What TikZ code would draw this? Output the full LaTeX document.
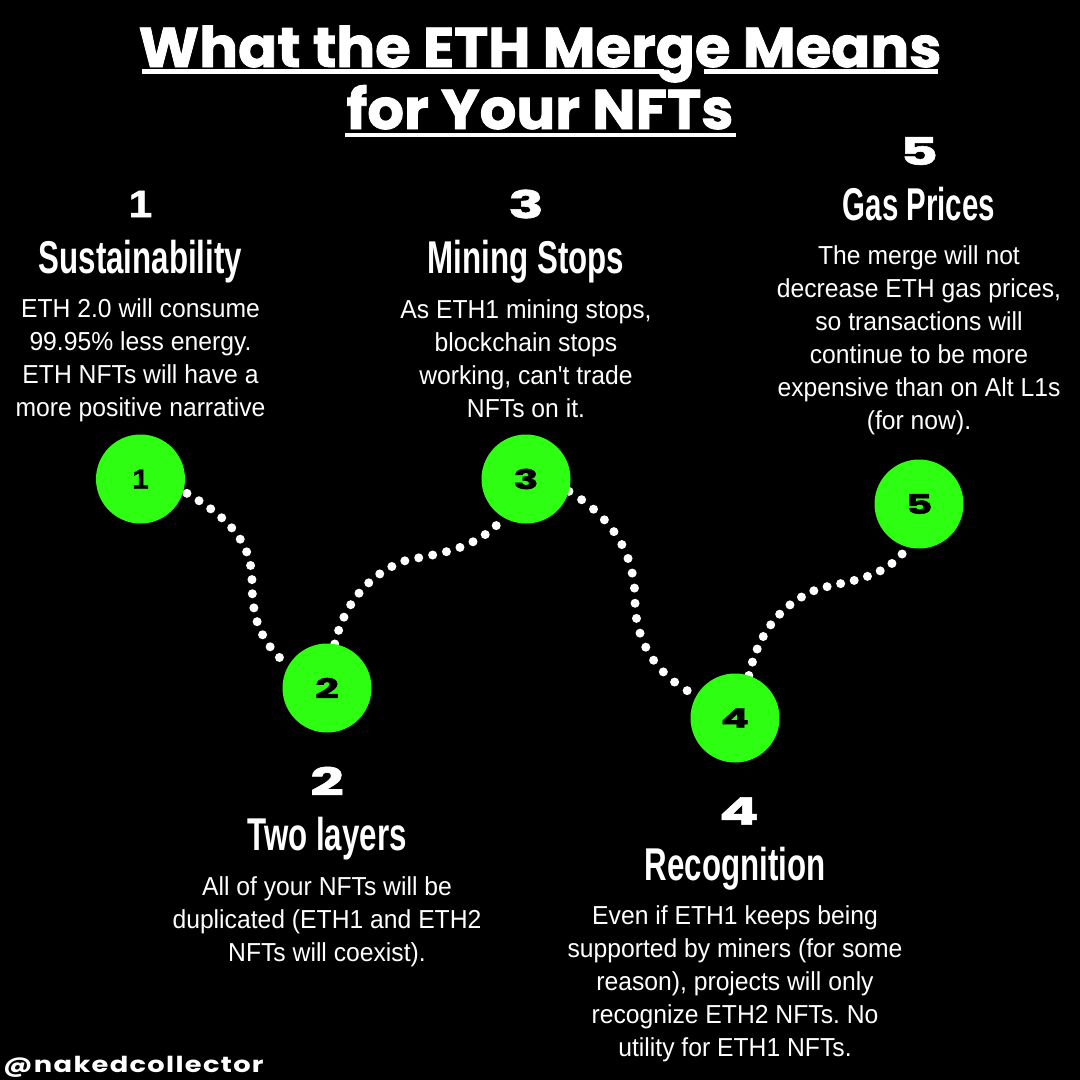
\documentclass[tikz,border=0pt]{standalone}
\usepackage{fontspec}
\usetikzlibrary{backgrounds}
\setmainfont{Liberation Sans}
\newfontfamily\bodyf[FakeStretch=0.95]{Liberation Sans}
\newfontfamily\headf[FakeStretch=0.68]{Liberation Sans}
\newfontfamily\headnarrowf[FakeStretch=0.64]{Liberation Sans}
\newfontfamily\titlef[FakeStretch=1.03,FakeBold=1.5]{Poppins}
\newfontfamily\numf[FakeStretch=1.55,FakeBold=1.5]{Poppins}
\newfontfamily\onef[FakeStretch=1.1,FakeBold=1.5]{Liberation Sans}
\newfontfamily\handlef[LetterSpace=6,FakeStretch=1.24]{Poppins}
\definecolor{lime}{HTML}{2EFF12}
\tikzset{
  x=1pt,y=-1pt,
  bodytext/.style={text=white,align=center,inner sep=0pt,font=\bodyf\frenchspacing\fontsize{26}{33}\selectfont},
  headtext/.style={text=white,inner sep=0pt,anchor=base,font=\headf\bfseries\fontsize{46}{50}\selectfont},
  numtext/.style={text=white,inner sep=0pt,font=\numf\bfseries\fontsize{38}{40}\selectfont},
  onetext/.style={text=white,inner sep=0pt,font=\onef\bfseries\fontsize{38}{40}\selectfont},
  titletext/.style={text=white,inner sep=0pt,anchor=base,font=\titlef\bfseries\fontsize{56}{60}\selectfont},
  marker/.style={circle,fill=lime,minimum size=89pt,inner sep=0pt,text=black,font=\numf\bfseries\fontsize{27}{28}\selectfont},
  dotline/.style={white,line width=9pt,line cap=round,dash pattern=on 0pt off 14.2pt},
  rulestyle/.style={white,line width=4.5pt}
}
\begin{document}
\begin{tikzpicture}
\begin{scope}[on background layer]
\fill[black] (0,0) rectangle (1080,1080);
\end{scope}
\useasboundingbox (0,0) rectangle (1080,1080);
% markers
\node[marker] (n1) at (140.5,479) {\onef\fontsize{27}{28}\selectfont\bfseries 1};
\node[marker] (n2) at (327,688) {2};
\node[marker] (n3) at (526,479) {3};
\node[marker] (n4) at (735,718) {4};
\node[marker] (n5) at (919,504) {5};
% connectors, under the markers
\begin{scope}[on background layer]
\draw[dotline,dash phase=10.2pt] (n1.-16) .. controls (225,515) and (252,540) .. (252,581) .. controls (252,615) and (258,640) .. (n2.150);
\draw[dotline] (n2.80) .. controls (343,608) and (365,576) .. (404,561) .. controls (432,554) and (475,552) .. (n3.240);
\draw[dotline,dash pattern=on 0pt off 15.2pt] (n3.-16) .. controls (603,512) and (635,545) .. (635,600) .. controls (635,640) and (655,675) .. (n4.150);
\draw[dotline,dash pattern=on 0pt off 13.9pt] (n4.72) .. controls (757,640) and (775,606) .. (818,589) .. controls (845,581) and (885,580) .. (n5.255);
\end{scope}
% title
\node[titletext] (t1) at (540,67) {What the ETH Merge Means};
\node[titletext] (t2) at (540,129) {for Your NFTs};
\draw[rulestyle] (142,71.7) -- (664,71.7) (704,71.7) -- (938,71.7);
\draw[rulestyle] (345,135) -- (736,135);
% item 1
\node[onetext] (h1) at (140.5,204) {1};
\node[headtext] (s1) at (140.5,273) {Sustainability};
\node[bodytext] (b1) at (140.5,360.5) {ETH 2.0 will consume\\99.95\% less energy.\\ETH NFTs will have a\\more positive narrative};
% item 2
\node[numtext] (h2) at (327,781) {2};
\node[headtext] (s2) at (327,850) {Two layers};
\node[bodytext] (b2) at (327,921.5) {All of your NFTs will be\\duplicated (ETH1 and ETH2\\NFTs will coexist).};
% item 3
\node[numtext] (h3) at (526,204) {3};
\node[headtext] (s3) at (526,273) {Mining Stops};
\node[bodytext] (b3) at (526,359) {As ETH1 mining stops,\\blockchain stops\\working, can't trade\\NFTs on it.};
% item 4
\node[numtext] (h4) at (739,811) {4};
\node[headtext] (s4) at (735,880) {Recognition};
\node[bodytext] (b4) at (735,984) {Even if ETH1 keeps being\\supported by miners (for some\\reason), projects will only\\recognize ETH2 NFTs. No\\utility for ETH1 NFTs.};
% item 5
\node[numtext] (h5) at (919,151) {5};
\node[headtext,font=\headnarrowf\bfseries\fontsize{46}{50}\selectfont] (s5) at (919,220) {Gas Prices};
\node[bodytext] (b5) at (919,340) {The merge will not\\decrease ETH gas prices,\\so transactions will\\continue to be more\\expensive than on Alt L1s\\(for now).};
% handle
\node[text=white,inner sep=0pt,anchor=west,font=\handlef\bfseries\fontsize{22}{24}\selectfont] (handle) at (3,1067) {@nakedcollector};
\end{tikzpicture}
\end{document}
